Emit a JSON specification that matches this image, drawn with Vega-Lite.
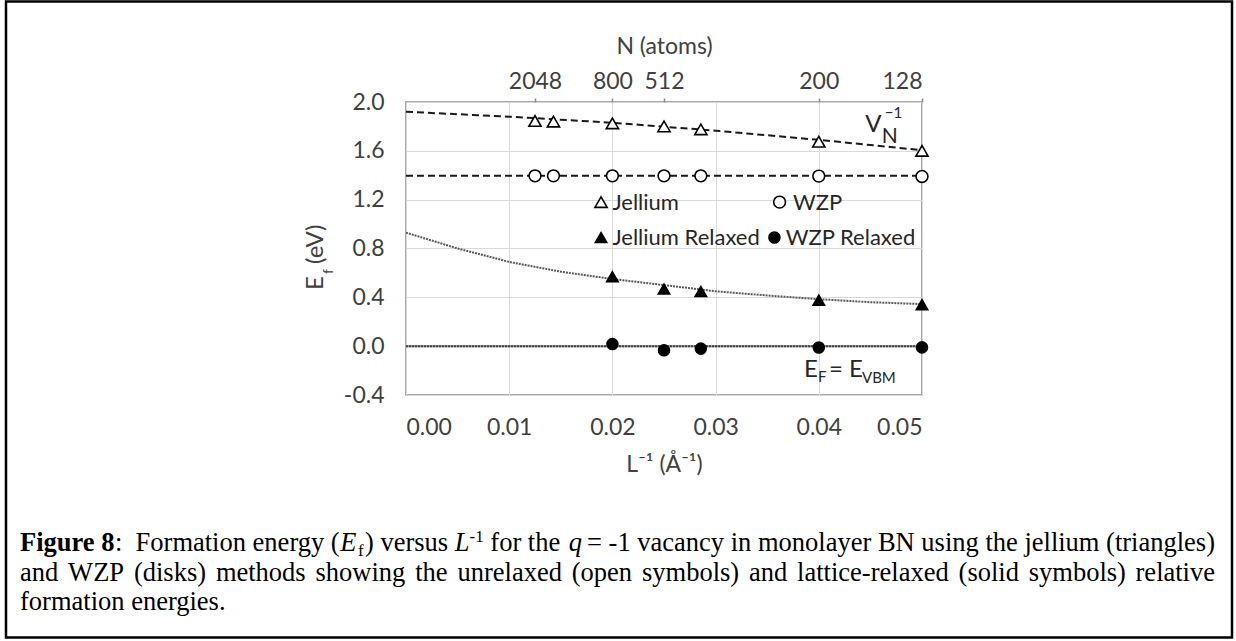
{
  "$schema": "https://vega.github.io/schema/vega-lite/v6.json",
  "width": 516,
  "height": 293,
  "autosize": {"type": "none"},
  "padding": {"left": 406, "top": 102, "right": 314, "bottom": 246},
  "background": "white",
  "config": {
    "font": "Lato",
    "view": {"stroke": "#8c8c8c", "strokeWidth": 1.5},
    "axis": {"labelFont": "Lato", "titleFont": "Lato", "labelColor": "#404040", "titleColor": "#404040", "labelFontSize": 23, "titleFontSize": 23, "titleFontWeight": "normal"}
  },
  "datasets": {
    "pts": [
      {"series": "Jellium", "x": 0.0125, "y": 1.845},
      {"series": "Jellium", "x": 0.01429, "y": 1.84},
      {"series": "Jellium", "x": 0.02, "y": 1.825},
      {"series": "Jellium", "x": 0.025, "y": 1.8},
      {"series": "Jellium", "x": 0.02857, "y": 1.776},
      {"series": "Jellium", "x": 0.04, "y": 1.675},
      {"series": "Jellium", "x": 0.05, "y": 1.6},
      {"series": "WZP", "x": 0.0125, "y": 1.395},
      {"series": "WZP", "x": 0.01429, "y": 1.395},
      {"series": "WZP", "x": 0.02, "y": 1.395},
      {"series": "WZP", "x": 0.025, "y": 1.395},
      {"series": "WZP", "x": 0.02857, "y": 1.395},
      {"series": "WZP", "x": 0.04, "y": 1.393},
      {"series": "WZP", "x": 0.05, "y": 1.39},
      {"series": "Jellium Relaxed", "x": 0.02, "y": 0.569},
      {"series": "Jellium Relaxed", "x": 0.025, "y": 0.468},
      {"series": "Jellium Relaxed", "x": 0.02857, "y": 0.448},
      {"series": "Jellium Relaxed", "x": 0.04, "y": 0.377},
      {"series": "Jellium Relaxed", "x": 0.05, "y": 0.34},
      {"series": "WZP Relaxed", "x": 0.02, "y": 0.017},
      {"series": "WZP Relaxed", "x": 0.025, "y": -0.034},
      {"series": "WZP Relaxed", "x": 0.02857, "y": -0.02},
      {"series": "WZP Relaxed", "x": 0.04, "y": -0.011},
      {"series": "WZP Relaxed", "x": 0.05, "y": -0.01}
    ],
    "fits": [
      {"fit": "Jellium", "x": 0.0, "y": 1.92},
      {"fit": "Jellium", "x": 0.01, "y": 1.88},
      {"fit": "Jellium", "x": 0.02, "y": 1.83},
      {"fit": "Jellium", "x": 0.03, "y": 1.765},
      {"fit": "Jellium", "x": 0.04, "y": 1.69},
      {"fit": "Jellium", "x": 0.05, "y": 1.605},
      {"fit": "WZP", "x": 0.0, "y": 1.395},
      {"fit": "WZP", "x": 0.05, "y": 1.395},
      {"fit": "Jellium Relaxed", "x": 0.0, "y": 0.93},
      {"fit": "Jellium Relaxed", "x": 0.005, "y": 0.8},
      {"fit": "Jellium Relaxed", "x": 0.01, "y": 0.69},
      {"fit": "Jellium Relaxed", "x": 0.015, "y": 0.61},
      {"fit": "Jellium Relaxed", "x": 0.02, "y": 0.55},
      {"fit": "Jellium Relaxed", "x": 0.025, "y": 0.5},
      {"fit": "Jellium Relaxed", "x": 0.03, "y": 0.45},
      {"fit": "Jellium Relaxed", "x": 0.035, "y": 0.415},
      {"fit": "Jellium Relaxed", "x": 0.04, "y": 0.385},
      {"fit": "Jellium Relaxed", "x": 0.045, "y": 0.36},
      {"fit": "Jellium Relaxed", "x": 0.05, "y": 0.345},
      {"fit": "WZP Relaxed", "x": 0.0, "y": 0.0},
      {"fit": "WZP Relaxed", "x": 0.05, "y": 0.0}
    ],
    "leg": [
      {"label": "Jellium", "series": "Jellium", "sx": 0.0189, "sy": 1.18, "tx": 0.02, "ty": 1.115},
      {"label": "WZP", "series": "WZP", "sx": 0.0362, "sy": 1.18, "tx": 0.0375, "ty": 1.115},
      {"label": "Jellium Relaxed", "series": "Jellium Relaxed", "sx": 0.0189, "sy": 0.89, "tx": 0.02, "ty": 0.825},
      {"label": "WZP Relaxed", "series": "WZP Relaxed", "sx": 0.0357, "sy": 0.89, "tx": 0.0368, "ty": 0.825}
    ],
    "bigText": [
      {"text": "V", "x": 0.0445, "y": 1.754},
      {"text": "E", "x": 0.038566, "y": -0.253},
      {"text": "= E", "x": 0.040988, "y": -0.253}
    ],
    "midText": [
      {"text": "N", "x": 0.0461, "y": 1.664}
    ],
    "smallText": [
      {"text": "−1", "x": 0.0464, "y": 1.869},
      {"text": "F", "x": 0.039922, "y": -0.294},
      {"text": "VBM", "x": 0.044186, "y": -0.302}
    ],
    "yTitle": [
      {"text": "E", "x": -0.00804, "y": 0.46},
      {"text": "(eV)", "x": -0.00804, "y": 0.673}
    ],
    "yTitleSub": [
      {"text": "f", "x": -0.00707, "y": 0.591}
    ],
    "capBold": [
      {"text": "Figure 8", "x": -0.037403, "y": -1.678}
    ],
    "capNorm": [
      {"text": ":", "x": -0.028203, "y": -1.678},
      {"text": "Formation energy (", "x": -0.026204, "y": -1.678},
      {"text": ") versus", "x": -0.003973, "y": -1.678},
      {"text": "for the", "x": 0.008169, "y": -1.678},
      {"text": "and", "x": -0.037403, "y": -1.924},
      {"text": "WZP", "x": -0.03274, "y": -1.924},
      {"text": "(disks)", "x": -0.026365, "y": -1.924},
      {"text": "methods", "x": -0.018422, "y": -1.924},
      {"text": "showing", "x": -0.008765, "y": -1.924},
      {"text": "the", "x": 0.000892, "y": -1.924},
      {"text": "unrelaxed", "x": 0.004984, "y": -1.924},
      {"text": "(open", "x": 0.016064, "y": -1.924},
      {"text": "symbols)", "x": 0.022865, "y": -1.924},
      {"text": "and", "x": 0.033236, "y": -1.924},
      {"text": "lattice-relaxed", "x": 0.037899, "y": -1.924},
      {"text": "(solid", "x": 0.053542, "y": -1.924},
      {"text": "symbols)", "x": 0.060346, "y": -1.924},
      {"text": "formation energies.", "x": -0.037403, "y": -2.161}
    ],
    "capNormRight": [
      {"text": "= -1 vacancy in monolayer BN using the jellium (triangles)", "x": 0.078391, "y": -1.678},
      {"text": "relative", "x": 0.078391, "y": -1.924}
    ],
    "capItal": [
      {"text": "E", "x": -0.006379, "y": -1.678},
      {"text": "L", "x": 0.004729, "y": -1.678},
      {"text": "q", "x": 0.015775, "y": -1.678}
    ],
    "capSub": [
      {"text": "f", "x": -0.004651, "y": -1.719}
    ],
    "capSup": [
      {"text": "-1", "x": 0.006153, "y": -1.604}
    ],
    "frame": [
      {"x": -0.03876, "x2": 0.08004, "y": 2.8232, "y2": -2.3865}
    ]
  },
  "resolve": {"axis": {"x": "independent", "y": "independent"}},
  "layer": [
    {
      "data": {"name": "fits"},
      "transform": [{"filter": "datum.fit === 'WZP Relaxed'"}],
      "mark": {"type": "line", "color": "#8c8c8c", "strokeWidth": 2},
      "encoding": {
        "x": {"field": "x", "type": "quantitative", "scale": {"domain": [0, 0.05], "nice": false, "zero": false},
          "axis": {"orient": "bottom", "values": [0, 0.01, 0.02, 0.03, 0.04, 0.05], "format": ".2f", "grid": true, "gridColor": "#d9d9d9", "gridWidth": 1, "domain": false, "ticks": false, "tickSize": 0, "labelPadding": 21, "title": "L⁻¹ (Å⁻¹)", "titlePadding": 14}},
        "y": {"field": "y", "type": "quantitative", "scale": {"domain": [-0.4, 2.0], "nice": false, "zero": false},
          "axis": {"orient": "left", "values": [-0.4, 0, 0.4, 0.8, 1.2, 1.6, 2.0], "labelExpr": "replace(format(datum.value, '.1f'), '−', '-')", "grid": true, "gridColor": "#d9d9d9", "gridWidth": 1, "domain": false, "ticks": false, "tickSize": 0, "labelPadding": 22, "title": null}},
        "detail": {"field": "fit"}
      }
    },
    {
      "data": {"name": "fits"},
      "mark": {"type": "line", "strokeWidth": 2},
      "encoding": {
        "x": {"field": "x", "type": "quantitative", "scale": {"domain": [0, 0.05], "nice": false, "zero": false},
          "axis": {"orient": "top", "values": [0.0125, 0.02, 0.025, 0.04, 0.05], "labelExpr": "datum.value < 0.015 ? '2048' : datum.value < 0.022 ? '800' : datum.value < 0.03 ? '512' : datum.value < 0.045 ? '200' : '128'", "grid": false, "domain": false, "ticks": true, "tickSize": 4, "tickColor": "#8c8c8c", "tickWidth": 1.5, "labelPadding": 5, "title": "N (atoms)", "titlePadding": 12}},
        "y": {"field": "y", "type": "quantitative", "scale": {"domain": [-0.4, 2.0], "nice": false, "zero": false}, "axis": null},
        "detail": {"field": "fit"},
        "color": {"field": "fit", "type": "nominal", "scale": {"domain": ["Jellium", "WZP", "Jellium Relaxed", "WZP Relaxed"], "range": ["#1a1a1a", "#1a1a1a", "#595959", "#404040"]}, "legend": null},
        "strokeDash": {"field": "fit", "type": "nominal", "scale": {"domain": ["Jellium", "WZP", "Jellium Relaxed", "WZP Relaxed"], "range": [[7, 4], [7, 4], [2, 1], [2, 1]]}, "legend": null}
      }
    },
    {
      "data": {"name": "pts"},
      "mark": {"type": "point", "filled": false, "stroke": "black", "strokeWidth": 1.6, "opacity": 1},
      "encoding": {
        "x": {"field": "x", "type": "quantitative", "scale": {"domain": [0, 0.05], "nice": false, "zero": false}, "axis": null},
        "y": {"field": "y", "type": "quantitative", "scale": {"domain": [-0.4, 2.0], "nice": false, "zero": false}, "axis": null},
        "shape": {"field": "series", "type": "nominal", "scale": {"domain": ["Jellium", "WZP", "Jellium Relaxed", "WZP Relaxed"], "range": ["triangle-up", "circle", "triangle-up", "circle"]}, "legend": null},
        "fill": {"field": "series", "type": "nominal", "scale": {"domain": ["Jellium", "WZP", "Jellium Relaxed", "WZP Relaxed"], "range": ["white", "white", "black", "black"]}, "legend": null},
        "size": {"field": "series", "type": "nominal", "scale": {"domain": ["Jellium", "WZP", "Jellium Relaxed", "WZP Relaxed"], "range": [150, 120, 165, 140]}, "legend": null}
      }
    },
    {
      "data": {"name": "leg"},
      "mark": {"type": "point", "filled": false, "stroke": "black", "strokeWidth": 1.6, "opacity": 1},
      "encoding": {
        "x": {"field": "sx", "type": "quantitative", "scale": {"domain": [0, 0.05], "nice": false, "zero": false}, "axis": null},
        "y": {"field": "sy", "type": "quantitative", "scale": {"domain": [-0.4, 2.0], "nice": false, "zero": false}, "axis": null},
        "shape": {"field": "series", "type": "nominal", "scale": {"domain": ["Jellium", "WZP", "Jellium Relaxed", "WZP Relaxed"], "range": ["triangle-up", "circle", "triangle-up", "circle"]}, "legend": null},
        "fill": {"field": "series", "type": "nominal", "scale": {"domain": ["Jellium", "WZP", "Jellium Relaxed", "WZP Relaxed"], "range": ["white", "white", "black", "black"]}, "legend": null},
        "size": {"field": "series", "type": "nominal", "scale": {"domain": ["Jellium", "WZP", "Jellium Relaxed", "WZP Relaxed"], "range": [150, 120, 165, 140]}, "legend": null}
      }
    },
    {
      "data": {"name": "leg"},
      "mark": {"type": "text", "align": "left", "baseline": "alphabetic", "font": "Lato", "fontSize": 22, "color": "#262626"},
      "encoding": {
        "x": {"field": "tx", "type": "quantitative", "scale": {"domain": [0, 0.05], "nice": false, "zero": false}, "axis": null},
        "y": {"field": "ty", "type": "quantitative", "scale": {"domain": [-0.4, 2.0], "nice": false, "zero": false}, "axis": null},
        "text": {"field": "label"}
      }
    },
    {
      "data": {"name": "bigText"},
      "mark": {"type": "text", "align": "left", "baseline": "alphabetic", "font": "Lato", "fontSize": 24, "color": "#262626"},
      "encoding": {
        "x": {"field": "x", "type": "quantitative", "scale": {"domain": [0, 0.05], "nice": false, "zero": false}, "axis": null},
        "y": {"field": "y", "type": "quantitative", "scale": {"domain": [-0.4, 2.0], "nice": false, "zero": false}, "axis": null},
        "text": {"field": "text"}
      }
    },
    {
      "data": {"name": "midText"},
      "mark": {"type": "text", "align": "left", "baseline": "alphabetic", "font": "Lato", "fontSize": 21, "color": "#262626"},
      "encoding": {
        "x": {"field": "x", "type": "quantitative", "scale": {"domain": [0, 0.05], "nice": false, "zero": false}, "axis": null},
        "y": {"field": "y", "type": "quantitative", "scale": {"domain": [-0.4, 2.0], "nice": false, "zero": false}, "axis": null},
        "text": {"field": "text"}
      }
    },
    {
      "data": {"name": "smallText"},
      "mark": {"type": "text", "align": "left", "baseline": "alphabetic", "font": "Lato", "fontSize": 15, "color": "#262626"},
      "encoding": {
        "x": {"field": "x", "type": "quantitative", "scale": {"domain": [0, 0.05], "nice": false, "zero": false}, "axis": null},
        "y": {"field": "y", "type": "quantitative", "scale": {"domain": [-0.4, 2.0], "nice": false, "zero": false}, "axis": null},
        "text": {"field": "text"}
      }
    },
    {
      "data": {"name": "yTitle"},
      "mark": {"type": "text", "align": "left", "baseline": "alphabetic", "angle": 270, "font": "Lato", "fontSize": 24, "color": "#404040"},
      "encoding": {
        "x": {"field": "x", "type": "quantitative", "scale": {"domain": [0, 0.05], "nice": false, "zero": false}, "axis": null},
        "y": {"field": "y", "type": "quantitative", "scale": {"domain": [-0.4, 2.0], "nice": false, "zero": false}, "axis": null},
        "text": {"field": "text"}
      }
    },
    {
      "data": {"name": "yTitleSub"},
      "mark": {"type": "text", "align": "left", "baseline": "alphabetic", "angle": 270, "font": "Lato", "fontSize": 14, "color": "#404040"},
      "encoding": {
        "x": {"field": "x", "type": "quantitative", "scale": {"domain": [0, 0.05], "nice": false, "zero": false}, "axis": null},
        "y": {"field": "y", "type": "quantitative", "scale": {"domain": [-0.4, 2.0], "nice": false, "zero": false}, "axis": null},
        "text": {"field": "text"}
      }
    },
    {
      "data": {"name": "capBold"},
      "mark": {"type": "text", "align": "left", "baseline": "alphabetic", "font": "Liberation Serif", "fontSize": 26.5, "fontWeight": "bold", "color": "black"},
      "encoding": {
        "x": {"field": "x", "type": "quantitative", "scale": {"domain": [0, 0.05], "nice": false, "zero": false}, "axis": null},
        "y": {"field": "y", "type": "quantitative", "scale": {"domain": [-0.4, 2.0], "nice": false, "zero": false}, "axis": null},
        "text": {"field": "text"}
      }
    },
    {
      "data": {"name": "capNorm"},
      "mark": {"type": "text", "align": "left", "baseline": "alphabetic", "font": "Liberation Serif", "fontSize": 26.5, "color": "black"},
      "encoding": {
        "x": {"field": "x", "type": "quantitative", "scale": {"domain": [0, 0.05], "nice": false, "zero": false}, "axis": null},
        "y": {"field": "y", "type": "quantitative", "scale": {"domain": [-0.4, 2.0], "nice": false, "zero": false}, "axis": null},
        "text": {"field": "text"}
      }
    },
    {
      "data": {"name": "capNormRight"},
      "mark": {"type": "text", "align": "right", "baseline": "alphabetic", "font": "Liberation Serif", "fontSize": 26.5, "color": "black"},
      "encoding": {
        "x": {"field": "x", "type": "quantitative", "scale": {"domain": [0, 0.05], "nice": false, "zero": false}, "axis": null},
        "y": {"field": "y", "type": "quantitative", "scale": {"domain": [-0.4, 2.0], "nice": false, "zero": false}, "axis": null},
        "text": {"field": "text"}
      }
    },
    {
      "data": {"name": "capItal"},
      "mark": {"type": "text", "align": "left", "baseline": "alphabetic", "font": "Liberation Serif", "fontSize": 26.5, "fontStyle": "italic", "color": "black"},
      "encoding": {
        "x": {"field": "x", "type": "quantitative", "scale": {"domain": [0, 0.05], "nice": false, "zero": false}, "axis": null},
        "y": {"field": "y", "type": "quantitative", "scale": {"domain": [-0.4, 2.0], "nice": false, "zero": false}, "axis": null},
        "text": {"field": "text"}
      }
    },
    {
      "data": {"name": "capSub"},
      "mark": {"type": "text", "align": "left", "baseline": "alphabetic", "font": "Liberation Serif", "fontSize": 17, "color": "black"},
      "encoding": {
        "x": {"field": "x", "type": "quantitative", "scale": {"domain": [0, 0.05], "nice": false, "zero": false}, "axis": null},
        "y": {"field": "y", "type": "quantitative", "scale": {"domain": [-0.4, 2.0], "nice": false, "zero": false}, "axis": null},
        "text": {"field": "text"}
      }
    },
    {
      "data": {"name": "capSup"},
      "mark": {"type": "text", "align": "left", "baseline": "alphabetic", "font": "Liberation Serif", "fontSize": 17, "color": "black"},
      "encoding": {
        "x": {"field": "x", "type": "quantitative", "scale": {"domain": [0, 0.05], "nice": false, "zero": false}, "axis": null},
        "y": {"field": "y", "type": "quantitative", "scale": {"domain": [-0.4, 2.0], "nice": false, "zero": false}, "axis": null},
        "text": {"field": "text"}
      }
    },
    {
      "data": {"name": "frame"},
      "mark": {"type": "rect", "fill": null, "fillOpacity": 0, "stroke": "black", "strokeWidth": 2.5},
      "encoding": {
        "x": {"field": "x", "type": "quantitative", "scale": {"domain": [0, 0.05], "nice": false, "zero": false}, "axis": null},
        "x2": {"field": "x2"},
        "y": {"field": "y", "type": "quantitative", "scale": {"domain": [-0.4, 2.0], "nice": false, "zero": false}, "axis": null},
        "y2": {"field": "y2"}
      }
    }
  ]
}
